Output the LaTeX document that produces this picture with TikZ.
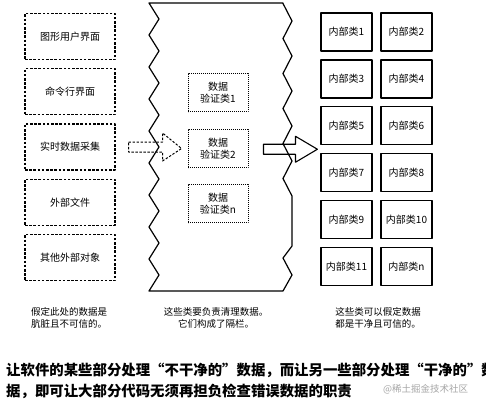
\documentclass[tikz,border=0pt]{standalone}
\usepackage{fontspec}
\setmainfont{Noto Sans CJK SC}
\usetikzlibrary{calc,positioning}

\begin{document}
\begin{tikzpicture}[x=1pt,y=-1pt,line join=round,
  srcbox/.style={draw,line width=1.1pt,dash pattern=on 2.6pt off 1.6pt,
    minimum width=90pt,minimum height=46pt,font=\fontsize{10}{12}\selectfont},
  valbox/.style={draw,line width=0.9pt,dash pattern=on 0.9pt off 1.1pt,
    minimum width=60pt,minimum height=38pt,align=center,
    font=\fontsize{10}{12.5}\selectfont},
  inbox/.style={draw,line width=1.2pt,minimum width=51pt,minimum height=38pt,
    inner sep=1pt,font=\fontsize{10}{12}\selectfont},
  caption/.style={align=center,font=\fontsize{9.5}{12}\selectfont},
  wall/.style={line width=1.2pt},
  inarrow/.style={line width=1pt,dash pattern=on 2.4pt off 1.6pt},
  outarrow/.style={line width=1.1pt}]
\useasboundingbox (0,0) rectangle (486,408);

% untrusted sources
\foreach \t [count=\i] in {图形用户界面,命令行界面,实时数据采集,外部文件,其他外部对象}
  \node[srcbox] (src\i) at (70,{36.5+55.25*(\i-1)}) {\t};

% barrier
\draw[wall] (283,3) -- (149,3)
  \foreach \k in {1,...,18} { -- ({149+10*mod(\k,2)},{3+16*\k}) }
  -- (283,291) -- (292,275) -- (283,258) -- (292,246) -- (292,196)
  \foreach \k in {1,...,11} { -- ({292-9*mod(\k,2)},{196-17.5*\k}) }
  -- cycle;

\node[valbox] (val1) at (218,92.5) {数据\\验证类1};
\node[valbox] (val2) at (218,148.5) {数据\\验证类2};
\node[valbox] (val3) at (218,203.5) {数据\\验证类n};

% trusted classes
\foreach \n [count=\i from 0] in {1,2,3,4,5,6,7,8,9,10,11,n}
  \node[inbox] (in\n) at ({346.5+60*mod(\i,2)},{32+46.9*int(\i/2)}) {内部类\n};

% dirty data goes in
\coordinate (inTail) at ($(src3.east)+(13,0)$);
\coordinate (inTip) at ($(val2.west)+(-6,0)$);
\draw[inarrow] ($(inTail)+(0,-5)$) -- ($(inTail)+(34,-5)$) -- ($(inTail)+(34,-14)$)
  -- (inTip) -- ($(inTail)+(34,14)$) -- ($(inTail)+(34,5)$) -- ($(inTail)+(0,5)$) -- cycle;

% clean data comes out
\coordinate (outTip) at ($($(in5.south west)!0.5!(in7.north west)$)+(-3,0)$);
\coordinate (outTail) at ($(val2.east)+(15,0)$);
\draw[outarrow] ($(outTail|-outTip)+(0,-5)$) -- ($(outTail|-outTip)+(32,-5)$)
  -- ($(outTail|-outTip)+(32,-13)$) -- (outTip) -- ($(outTail|-outTip)+(32,13)$)
  -- ($(outTail|-outTip)+(32,5)$) -- ($(outTail|-outTip)+(0,5)$) -- cycle;

% captions
\node[caption] (capL) at (69,318) {假定此处的数据是\\肮脏且不可信的。};
\node[caption] (capM) at (216,318) {这些类要负责清理数据。\\它们构成了隔栏。};
\node[caption,align=left] (capR) at (378,318) {这些类可以假定数据\\都是干净且可信的。};

\begin{scope}
\clip (0,0) rectangle (486,408);
\node[anchor=west,inner sep=0pt,font=\fontsize{14.4}{16}\selectfont\bfseries] (note1) at (6,370)
  {让软件的某些部分处理“不干净的”数据，而让另一些部分处理“干净的”数};
\node[anchor=west,inner sep=0pt,font=\fontsize{14.4}{16}\selectfont\bfseries] (note2) at (6,391)
  {据，即可让大部分代码无须再担负检查错误数据的职责};
\node[anchor=west,inner sep=0pt,text=gray!70,font=\fontsize{9.5}{11}\selectfont] (mark) at (383,389)
  {@稀土掘金技术社区};
\end{scope}
\end{tikzpicture}
\end{document}
